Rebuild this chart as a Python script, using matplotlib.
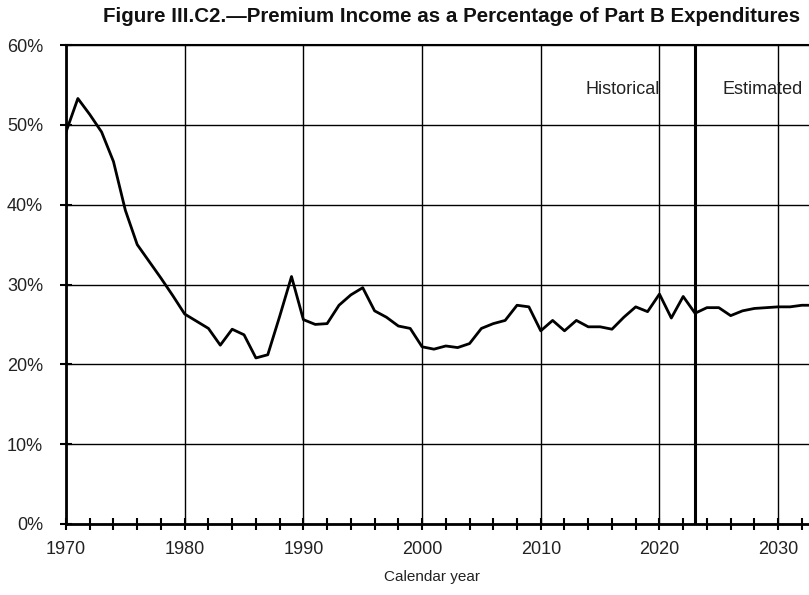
import matplotlib
matplotlib.use("Agg")
import matplotlib.pyplot as plt
from matplotlib.ticker import MultipleLocator, FuncFormatter

years = list(range(1970, 2034))
premium_pct = [
    49.1, 53.3, 51.3, 49.1, 45.4, 39.3, 35.0, 32.9, 30.8, 28.6,  # 1970-1979
    26.3, 25.4, 24.5, 22.4, 24.4, 23.7, 20.8, 21.2, 26.0, 31.0,  # 1980-1989
    25.6, 25.0, 25.1, 27.4, 28.7, 29.6, 26.7, 25.9, 24.8, 24.5,  # 1990-1999
    22.2, 21.9, 22.3, 22.1, 22.6, 24.5, 25.1, 25.5, 27.4, 27.2,  # 2000-2009
    24.2, 25.5, 24.2, 25.5, 24.7, 24.7, 24.4, 25.9, 27.2, 26.6,  # 2010-2019
    28.8, 25.8, 28.5, 26.4, 27.1, 27.1, 26.1, 26.7, 27.0, 27.1,  # 2020-2029
    27.2, 27.2, 27.4, 27.4,                                      # 2030-2033
]
split_year = 2023
title = "Figure III.C2.\u2014Premium Income as a Percentage of Part B Expenditures"
xlabel = "Calendar year"
region_labels = ["Historical", "Estimated"]

plt.rcParams['font.family'] = ['Liberation Sans', 'DejaVu Sans']

W, H = 809, 595
fig = plt.figure(figsize=(W / 100, H / 100), dpi=100)
left, right, top, bottom = 66, 809, 45, 524
ax = fig.add_axes([left / W, (H - bottom) / H, (right - left) / W, (bottom - top) / H])

ax.plot(years, premium_pct, color='black', lw=2.0, zorder=3, clip_on=True)
ax.set_xlim(1970, 2032.6)
ax.set_ylim(0, 60)

ax.xaxis.set_major_locator(MultipleLocator(10))
ax.xaxis.set_minor_locator(MultipleLocator(2))
ax.yaxis.set_major_locator(MultipleLocator(10))
ax.yaxis.set_major_formatter(FuncFormatter(lambda v, p: f"{int(round(v))}%"))

ax.grid(True, which='major', color='black', lw=1.0)
ax.set_axisbelow(True)
ax.axvline(split_year, color='black', lw=2.2, zorder=2)

for s in ['left', 'bottom']:
    ax.spines[s].set_linewidth(2.0)
ax.spines['top'].set_linewidth(1.5)
ax.spines['right'].set_visible(False)

ax.tick_params(axis='both', which='major', direction='inout', length=9, width=1.5,
               labelsize=13, labelcolor='#222222')
ax.tick_params(axis='x', which='minor', direction='inout', length=8, width=1.5)
ax.tick_params(axis='x', pad=8)
ax.tick_params(axis='y', pad=12)

ax.text(2020.0, 54.4, region_labels[0], ha='right', va='center', fontsize=13, color='#222222')
ax.text(2025.3, 54.4, region_labels[1], ha='left', va='center', fontsize=13, color='#222222')

fig.text(451.5 / W, 1 - 17 / H, title, ha='center', va='center', fontsize=14.8,
         fontweight='bold', color='#111111')
fig.text(432 / W, 1 - 577 / H, xlabel, ha='center', va='center', fontsize=11, color='#222222')

fig.savefig("out.png", dpi=100)
